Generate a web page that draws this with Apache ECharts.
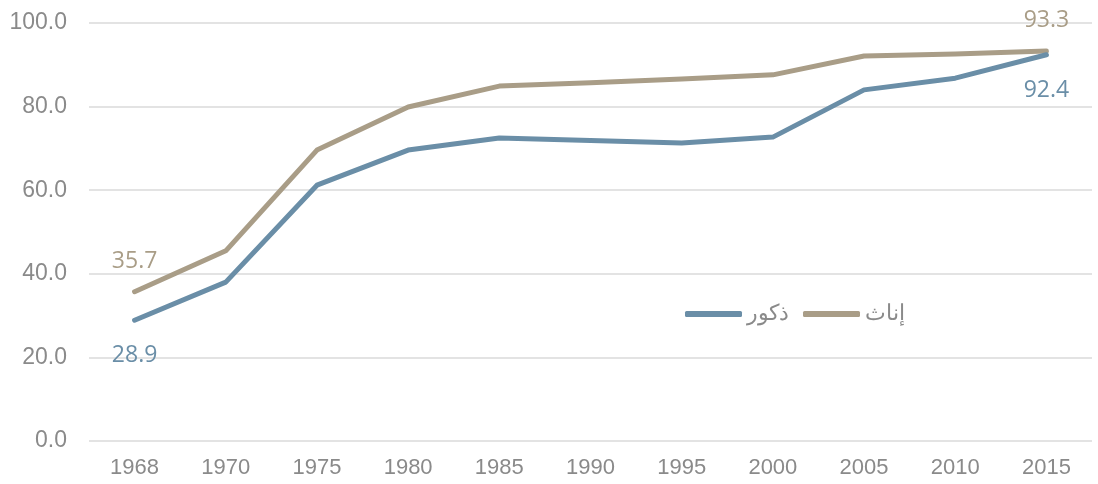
<!DOCTYPE html>
<html>
<head>
<meta charset="utf-8">
<script src="https://cdn.jsdelivr.net/npm/echarts@6/dist/echarts.min.js"></script>
<style>
html,body{margin:0;padding:0;background:#fff;}
#chart{width:1098px;height:484px;}
</style>
</head>
<body>
<div id="chart"></div>
<script>
// Years on the horizontal axis
const years = ['1968','1970','1975','1980','1985','1990','1995','2000','2005','2010','2015'];
// Rates by sex (%)
const males   = [28.9, 38.0, 61.2, 69.6, 72.5, 71.9, 71.3, 72.7, 84.0, 86.8, 92.4];
const females = [35.7, 45.5, 69.6, 79.9, 84.9, 85.7, 86.6, 87.6, 92.1, 92.6, 93.3];
const seriesNames = ['ذكور', 'إناث'];

const blue = '#6a8ea7';
const tan = '#a99d87';
const labelFont = '"Open Sans", sans-serif';

// Only the first and last values carry a label
function edgeLabels(arr, pos) {
  return arr.map((v, i) => ({
    value: v,
    label: { show: i === 0 || i === arr.length - 1, position: pos }
  }));
}

const chart = echarts.init(document.getElementById('chart'));
chart.setOption({
  animation: false,
  grid: { left: 89, right: 6, top: 23, bottom: 43 },
  legend: {
    data: seriesNames,
    left: 680, top: 298,
    itemWidth: 57, itemHeight: 6, itemGap: 14,
    icon: 'roundRect',
    textStyle: { color: '#8a8a8a', fontSize: 22, fontFamily: 'Noto Sans, sans-serif', padding: [0, 0, 0, 0] }
  },
  xAxis: {
    type: 'category',
    data: years,
    boundaryGap: true,
    axisLine: { show: false },
    axisTick: { show: false },
    axisLabel: { color: '#8a8a8a', fontSize: 22, margin: 16, fontFamily: 'Liberation Sans, Arial, sans-serif' }
  },
  yAxis: {
    type: 'value',
    min: 0, max: 100, interval: 20,
    axisLine: { show: false },
    axisTick: { show: false },
    splitLine: { lineStyle: { color: '#e3e3e3', width: 2 } },
    axisLabel: {
      color: '#8a8a8a', fontSize: 23, margin: 22,
      fontFamily: 'Liberation Sans, Arial, sans-serif',
      formatter: v => v.toFixed(1)
    }
  },
  series: [
    {
      name: seriesNames[0], type: 'line', data: edgeLabels(males, 'bottom'),
      symbol: 'circle', symbolSize: 0, showSymbol: true, z: 3,
      lineStyle: { color: blue, width: 5, cap: 'round', join: 'round' },
      itemStyle: { color: blue },
      label: { color: blue, fontSize: 23, distance: 24, fontFamily: labelFont, formatter: p => p.value.toFixed(1) }
    },
    {
      name: seriesNames[1], type: 'line', data: edgeLabels(females, 'top'),
      symbol: 'circle', symbolSize: 0, showSymbol: true, z: 2,
      lineStyle: { color: tan, width: 5, cap: 'round', join: 'round' },
      itemStyle: { color: tan },
      label: { color: tan, fontSize: 23, distance: 19, fontFamily: labelFont, formatter: p => p.value.toFixed(1) }
    }
  ]
});
</script>
</body>
</html>
